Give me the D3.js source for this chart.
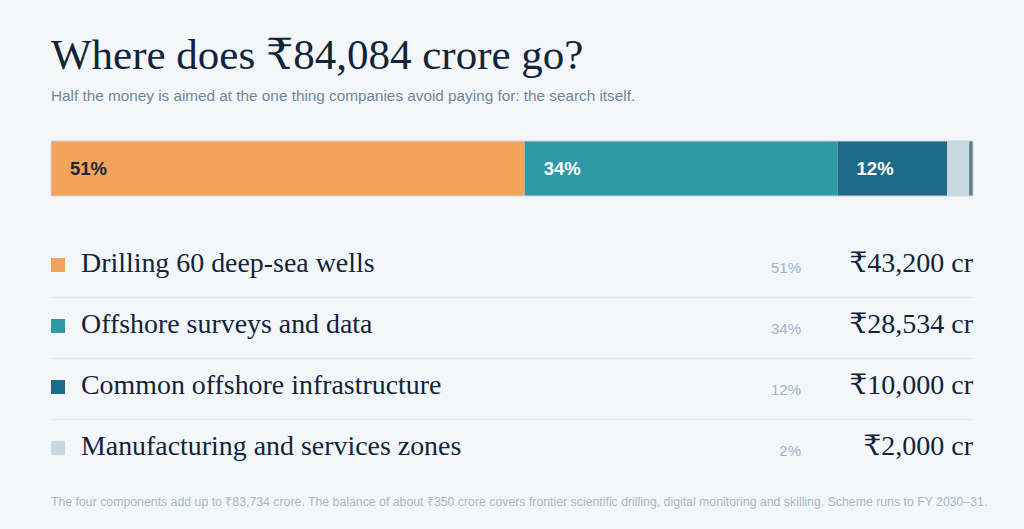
<!DOCTYPE html>
<html>
<head>
<meta charset="utf-8">
<script src="https://cdn.jsdelivr.net/npm/d3@7"></script>
<style>
  html, body { margin: 0; padding: 0; background: #f4f7fa; }
  svg { display: block; }
</style>
</head>
<body>
<svg id="chart"></svg>
<script>
// components of the scheme, in crore
const categories = ["Drilling 60 deep-sea wells", "Offshore surveys and data", "Common offshore infrastructure", "Manufacturing and services zones"];
const values = [43200, 28534, 10000, 2000];
const valueLabels = ["₹43,200 cr", "₹28,534 cr", "₹10,000 cr", "₹2,000 cr"];
const balance = 350;
const colors = ["#f2a55a", "#2e9aa8", "#1e6a88", "#c9d9e1"];
const balanceColor = "#5f7b8f";

const W = 1024, H = 529;
const serif = "'Liberation Serif', 'DejaVu Serif', serif";
const sans = "'Liberation Sans', Arial, sans-serif";

const total = d3.sum(values) + balance;

const svg = d3.select("#chart")
    .attr("width", W)
    .attr("height", H);

svg.append("rect").attr("width", W).attr("height", H).attr("fill", "#f4f7fa");

// title
svg.append("text")
    .attr("x", 51).attr("y", 69)
    .attr("font-family", serif)
    .attr("font-size", 43)
    .attr("fill", "#11243a")
    .text("Where does ₹84,084 crore go?");

svg.append("text")
    .attr("x", 51).attr("y", 101)
    .attr("font-family", sans)
    .attr("font-size", 15.3)
    .attr("fill", "#6f8699")
    .text("Half the money is aimed at the one thing companies avoid paying for: the search itself.");

// stacked bar
const x = d3.scaleLinear().domain([0, total]).range([51, 973]);

const segs = [];
let acc = 0;
values.forEach((v, i) => {
    segs.push({ name: categories[i], value: v, x0: acc, x1: acc + v, color: colors[i], pct: Math.round(v / total * 100) });
    acc += v;
});
segs.push({ name: "balance", value: balance, x0: acc, x1: acc + balance, color: balanceColor, pct: null });

const barY = 141, barH = 55;

const bar = svg.append("g");
bar.selectAll("rect.seg")
    .data(segs)
    .enter()
    .append("rect")
    .attr("class", "seg")
    .attr("x", d => x(d.x0))
    .attr("y", barY)
    .attr("width", d => x(d.x1) - x(d.x0))
    .attr("height", barH)
    .attr("fill", d => d.color);

bar.append("rect")
    .attr("x", x(0)).attr("y", barY)
    .attr("width", x(total) - x(0)).attr("height", barH)
    .attr("fill", "none")
    .attr("stroke", "#cbd5dd")
    .attr("stroke-width", 1);

bar.selectAll("text")
    .data(segs.filter(d => d.pct !== null && x(d.x1) - x(d.x0) > 60))
    .enter()
    .append("text")
    .attr("x", d => x(d.x0) + 19)
    .attr("y", barY + barH / 2 + 6.5)
    .attr("font-family", sans)
    .attr("font-weight", "bold")
    .attr("font-size", 18.5)
    .attr("fill", (d, i) => i === 0 ? "#1b2535" : "#ffffff")
    .text(d => d.pct + "%");

// legend table
const y = d3.scaleBand().domain(categories).range([236, 480]);

const rows = svg.selectAll("g.row")
    .data(segs.slice(0, 4))
    .enter()
    .append("g")
    .attr("class", "row")
    .attr("transform", d => `translate(0, ${y(d.name) + 36})`);

rows.append("rect")
    .attr("x", 51).attr("y", -14)
    .attr("width", 14).attr("height", 14)
    .attr("fill", d => d.color);

rows.append("text")
    .attr("x", 81).attr("y", 0)
    .attr("font-family", serif)
    .attr("font-size", 27.9)
    .attr("fill", "#11243a")
    .text(d => d.name);

rows.append("text")
    .attr("x", 801).attr("y", 1)
    .attr("text-anchor", "end")
    .attr("font-family", sans)
    .attr("font-size", 15)
    .attr("fill", "#9fb4c5")
    .text(d => d.pct + "%");

rows.append("text")
    .attr("x", 973).attr("y", 0)
    .attr("text-anchor", "end")
    .attr("font-family", serif)
    .attr("font-size", 28)
    .attr("fill", "#11243a")
    .text((d, i) => valueLabels[i]);

rows.filter((d, i) => i < 3)
    .append("line")
    .attr("x1", 51).attr("x2", 973)
    .attr("y1", 25.5).attr("y2", 25.5)
    .attr("stroke", "#e1e8ee")
    .attr("stroke-width", 1.5);

// footnote
svg.append("text")
    .attr("x", 51).attr("y", 506)
    .attr("font-family", sans)
    .attr("font-size", 12.3)
    .attr("fill", "#a6b8c6")
    .text("The four components add up to ₹83,734 crore. The balance of about ₹350 crore covers frontier scientific drilling, digital monitoring and skilling. Scheme runs to FY 2030–31.");
</script>
</body>
</html>
